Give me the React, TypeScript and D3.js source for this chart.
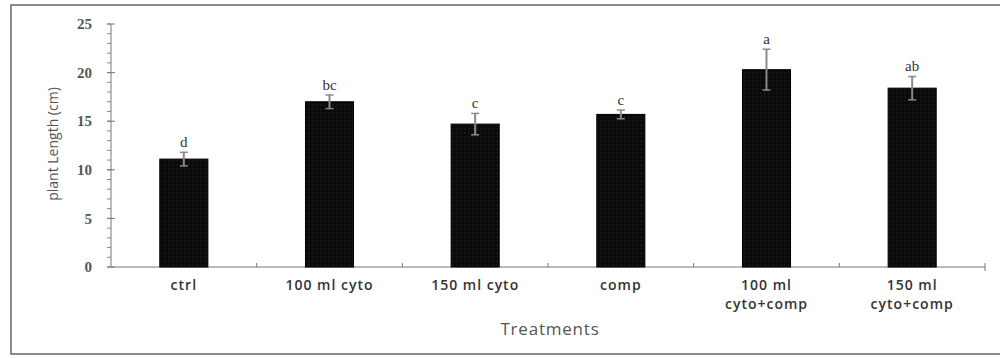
import React from "react";
import * as d3 from "d3";

const treatments = ["ctrl", "100 ml cyto", "150 ml cyto", "comp", "100 ml\ncyto+comp", "150 ml\ncyto+comp"];
const lengths = [11.1, 17.0, 14.7, 15.7, 20.3, 18.4];
const stdErrors = [0.7, 0.7, 1.1, 0.45, 2.1, 1.2];
const groupLetters = ["d", "bc", "c", "c", "a", "ab"];
const yTicks = [0, 5, 10, 15, 20, 25];

const App = () => {
  const width = 1000;
  const height = 358;
  const left = 111;
  const right = 985;
  const top = 24;
  const bottom = 267;

  const x = d3
    .scaleBand<string>()
    .domain(treatments)
    .range([left, right])
    .paddingInner(0.67)
    .paddingOuter(0.335);

  const y = d3.scaleLinear().domain([0, 25]).range([bottom, top]);
  const minorTicks = d3.range(0, 26, 1);
  const step = x.step();

  return (
    <svg width={width} height={height} style={{ position: "absolute", left: 0, top: 0, background: "#fff" }}>
      <defs>
        <pattern id="dots" width="4" height="4" patternUnits="userSpaceOnUse">
          <rect width="4" height="4" fill="#0a0a0a" />
          <circle cx="1" cy="1" r="0.6" fill="#3a3a3a" />
        </pattern>
      </defs>

      {/* outer frame */}
      <rect x={11} y={5} width={1000} height={349} fill="#fff" stroke="#666" strokeWidth={1.5} />

      {/* y axis */}
      <line x1={left} x2={left} y1={top} y2={bottom} stroke="#777" strokeWidth={1} />
      {minorTicks.map((t) => (
        <line key={"m" + t} x1={left - 4} x2={left} y1={y(t)} y2={y(t)} stroke="#888" strokeWidth={1} />
      ))}
      {yTicks.map((t) => (
        <g key={t}>
          <line x1={left - 4} x2={left + 4} y1={y(t)} y2={y(t)} stroke="#777" strokeWidth={1} />
          <text
            x={92}
            y={y(t)}
            dy="0.35em"
            textAnchor="end"
            fontFamily="Liberation Serif"
            fontWeight="bold"
            fontSize={15}
            fill="#555"
          >
            {t}
          </text>
        </g>
      ))}
      <text
        transform={`translate(58,144) rotate(-90)`}
        textAnchor="middle"
        fontFamily="Open Sans"
        fontSize={14}
        fill="#555"
      >
        plant Length (cm)
      </text>

      {/* x axis */}
      <line x1={left} x2={right} y1={bottom} y2={bottom} stroke="#777" strokeWidth={1} />
      {treatments.map((c, i) => (
        <line
          key={"b" + i}
          x1={left + step * (i + 1)}
          x2={left + step * (i + 1)}
          y1={bottom - 4}
          y2={i === treatments.length - 1 ? bottom + 4 : bottom}
          stroke="#777"
        />
      ))}

      {/* bars */}
      {treatments.map((c, i) => {
        const cx = (x(c) as number) + x.bandwidth() / 2;
        const v = lengths[i];
        const e = stdErrors[i];
        return (
          <g key={c}>
            <rect
              x={x(c)}
              y={y(v)}
              width={x.bandwidth()}
              height={bottom - y(v)}
              fill="url(#dots)"
              stroke="#000"
              strokeWidth={1}
            />
            <line x1={cx} x2={cx} y1={y(v - e)} y2={y(v + e)} stroke="#8a8a8a" strokeWidth={2} />
            <line x1={cx - 4} x2={cx + 4} y1={y(v + e)} y2={y(v + e)} stroke="#8a8a8a" strokeWidth={1.5} />
            <line x1={cx - 4} x2={cx + 4} y1={y(v - e)} y2={y(v - e)} stroke="#8a8a8a" strokeWidth={1.5} />
            <text
              x={cx}
              y={y(v + e) - 5}
              textAnchor="middle"
              fontFamily="Liberation Serif"
              fontSize={15}
              fill="#333"
            >
              {groupLetters[i]}
            </text>
            {c.split("\n").map((line, j) => (
              <text
                key={j}
                x={cx}
                y={290 + j * 19}
                textAnchor="middle"
                fontFamily="Open Sans"
                fontWeight="600"
                fontSize={14}
                letterSpacing={1}
                fill="#333"
              >
                {line}
              </text>
            ))}
          </g>
        );
      })}

      <text x={550} y={335} textAnchor="middle" fontFamily="Open Sans" fontSize={17} letterSpacing={0.8} fill="#555">
        Treatments
      </text>
    </svg>
  );
};

export default App;
